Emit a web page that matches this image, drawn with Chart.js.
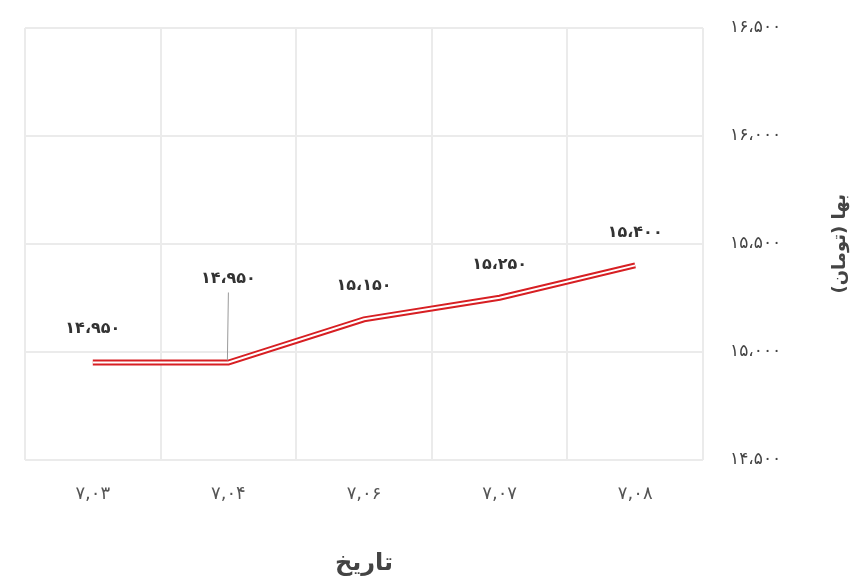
<!DOCTYPE html>
<html lang="fa">
<head>
<meta charset="utf-8">
<script src="https://cdn.jsdelivr.net/npm/chart.js@4"></script>
<style>
  html, body { margin: 0; padding: 0; background: #fff; }
</style>
</head>
<body>
<canvas id="c" width="860" height="588"></canvas>
<script>
// داده‌ها
const categories = ['۷,۰۳', '۷,۰۴', '۷,۰۶', '۷,۰۷', '۷,۰۸'];
const prices = [14950, 14950, 15150, 15250, 15400];
const yTicks = [14500, 15000, 15500, 16000, 16500];

const xTitle = 'تاریخ';
const yTitle = 'بها (تومان)';

// فاصله برچسب‌ها از نقطه (پیکسل)
const labelLift = [34, 84, 33, 33, 33];

const faDigits = '۰۱۲۳۴۵۶۷۸۹';
function toFa(n) {
  return n.toLocaleString('en-US').replace(/\d/g, d => faDigits[d]).replace(/,/g, '،');
}

const FONT = 'DejaVu Sans';

const valueLabels = {
  id: 'valueLabels',
  afterDatasetsDraw(chart) {
    const ctx = chart.ctx;
    const meta = chart.getDatasetMeta(0);
    ctx.save();
    ctx.font = 'bold 16px "' + FONT + '"';
    ctx.fillStyle = '#333';
    ctx.textAlign = 'center';
    ctx.textBaseline = 'middle';
    meta.data.forEach((pt, i) => {
      const y = pt.y - labelLift[i];
      ctx.fillText(toFa(prices[i]), pt.x, y);
      if (labelLift[i] > 50) {
        ctx.strokeStyle = '#999';
        ctx.lineWidth = 1;
        ctx.beginPath();
        ctx.moveTo(pt.x, y + 14);
        ctx.lineTo(pt.x - 1, pt.y - 2);
        ctx.stroke();
      }
    });
    ctx.restore();
  }
};

// عنوان محور عمودی (چرخش پادساعتگرد)
const yAxisTitle = {
  id: 'yAxisTitle',
  afterDraw(chart) {
    const ctx = chart.ctx;
    const area = chart.chartArea;
    ctx.save();
    ctx.translate(840, (area.top + area.bottom) / 2);
    ctx.rotate(-Math.PI / 2);
    ctx.font = 'bold 18px "' + FONT + '"';
    ctx.fillStyle = '#444';
    ctx.textAlign = 'center';
    ctx.textBaseline = 'middle';
    ctx.fillText(yTitle, 0, 0);
    ctx.restore();
  }
};

new Chart(document.getElementById('c'), {
  type: 'line',
  data: {
    labels: categories,
    datasets: [
      {
        data: prices,
        borderColor: '#d71f23',
        borderWidth: 6,
        pointRadius: 0,
        tension: 0,
        order: 2
      },
      {
        data: prices,
        borderColor: '#ffffff',
        borderWidth: 2,
        pointRadius: 0,
        tension: 0,
        order: 1
      }
    ]
  },
  options: {
    responsive: false,
    animation: false,
    devicePixelRatio: 1,
    layout: { padding: { left: 25, top: 28, right: 0, bottom: 10 } },
    plugins: {
      legend: { display: false },
      tooltip: { enabled: false }
    },
    scales: {
      x: {
        offset: true,
        grid: { color: '#ebebeb', lineWidth: 2, drawTicks: false, offset: true },
        border: { display: false },
        ticks: {
          padding: 24,
          color: '#555',
          font: { family: FONT, size: 18 }
        },
        title: {
          display: true,
          text: xTitle,
          color: '#444',
          padding: { top: 20, bottom: 0 },
          font: { family: FONT, size: 24, weight: 'bold' }
        }
      },
      y: {
        position: 'right',
        min: 14500,
        max: 16500,
        afterBuildTicks(scale) {
          scale.ticks = yTicks.map(v => ({ value: v }));
        },
        afterFit(scale) {
          scale.width = 157;
          scale.paddingTop = 0;
          scale.paddingBottom = 0;
        },
        grid: { color: '#ebebeb', lineWidth: 2, drawTicks: false },
        border: { display: false },
        ticks: {
          padding: 27,
          color: '#444',
          callback: v => toFa(v),
          font: { family: FONT, size: 17 }
        }
      }
    }
  },
  plugins: [valueLabels, yAxisTitle]
});
</script>
</body>
</html>
